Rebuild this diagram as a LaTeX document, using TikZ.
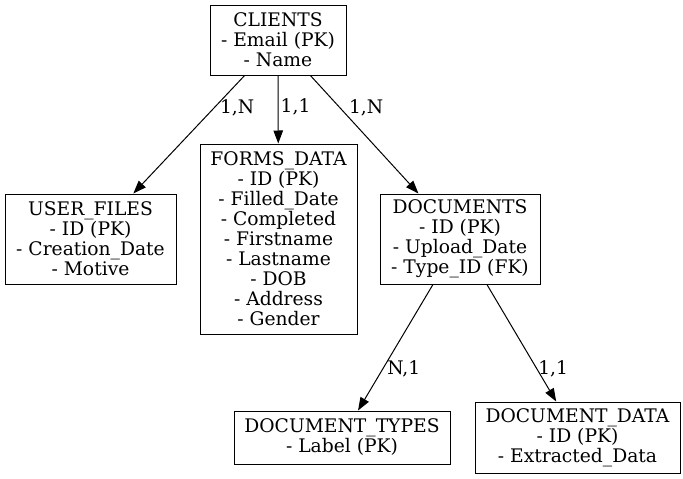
\documentclass[tikz,border=0pt]{standalone}
\usepackage{fontspec}
\setmainfont{DejaVu Serif}
\usepackage{xcolor}
\usepackage{tikz}
\usetikzlibrary{arrows.meta}
\tikzset{
  ent/.style={draw=black, line width=1pt, align=center, inner sep=0pt,
    font=\fontsize{18.7pt}{20pt}\selectfont},
  rel/.style={draw=black, line width=1pt, -{Triangle[length=13pt,width=9.5pt]}},
  card/.style={anchor=west, inner sep=3pt, text=black,
    font=\fontsize{18.7pt}{20pt}\selectfont},
}
\begin{document}
\begin{tikzpicture}[x=1pt,y=-1pt]
  \useasboundingbox (0,0) rectangle (683,479);
  \node[ent, minimum width=136pt, minimum height=70pt] (clients) at (278,40)
    {CLIENTS\\- Email (PK)\\- Name};
  \node[ent, minimum width=171pt, minimum height=90pt] (userfiles) at (90.5,239)
    {USER\_FILES\\- ID (PK)\\- Creation\_Date\\- Motive};
  \node[ent, minimum width=157pt, minimum height=190pt] (formsdata) at (278.5,239)
    {FORMS\_DATA\\- ID (PK)\\- Filled\_Date\\- Completed\\- Firstname\\- Lastname\\- DOB\\- Address\\- Gender};
  \node[ent, minimum width=160pt, minimum height=90pt] (documents) at (460,239)
    {DOCUMENTS\\- ID (PK)\\- Upload\_Date\\- Type\_ID (FK)};
  \node[ent, minimum width=216pt, minimum height=53pt] (doctypes) at (342,437.5)
    {DOCUMENT\_TYPES\\- Label (PK)};
  \node[ent, minimum width=205pt, minimum height=71pt] (docdata) at (577.5,437.5)
    {DOCUMENT\_DATA\\- ID (PK)\\- Extracted\_Data};
  \draw[rel] (clients) -- node[card, pos=0.27, xshift=2pt] {1,N} (userfiles);
  \draw[rel] (clients) -- node[card, pos=0.46, xshift=-1pt] {1,1} (formsdata);
  \draw[rel] (clients) -- node[card, pos=0.27, xshift=6pt] {1,N} (documents);
  \draw[rel] (documents) -- node[card, pos=0.67, xshift=1pt] {N,1} (doctypes);
  \draw[rel] (documents) -- node[card, pos=0.72, xshift=-2pt] {1,1} (docdata);
\end{tikzpicture}
\end{document}
